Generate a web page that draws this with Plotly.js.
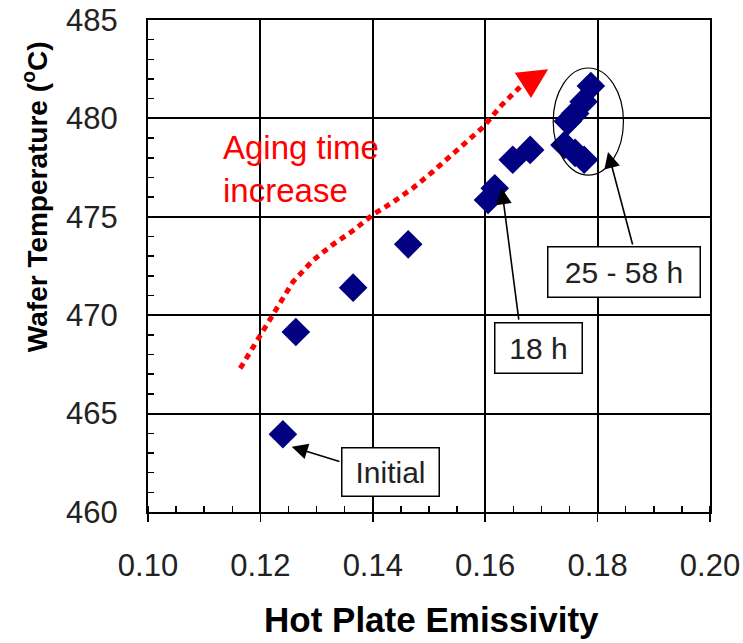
<!DOCTYPE html>
<html>
<head>
<meta charset="utf-8">
<script src="https://cdn.plot.ly/plotly-3.0.1.min.js"></script>
<style>html,body{margin:0;padding:0;background:#fff;}#chart{width:743px;height:643px;}</style>
</head>
<body>
<div id="chart"></div>
<script>
// Measured points: hot plate emissivity vs wafer temperature
const emissivity = [0.1240, 0.1263, 0.1365, 0.1463, 0.1605, 0.1617, 0.1649, 0.1680,
                    0.1741, 0.1760, 0.1776, 0.1747, 0.1760, 0.1775, 0.1788];
const waferTemp  = [463.95, 469.15, 471.40, 473.60, 475.85, 476.45, 477.90, 478.40,
                    478.65, 478.25, 477.90, 479.85, 480.25, 480.85, 481.65];

// Hand-drawn "aging time increase" trend curve
const trendX = [0.1164, 0.1205, 0.1230, 0.1258, 0.1294, 0.1327, 0.1365, 0.1400,
                0.1436, 0.1471, 0.1507, 0.1560, 0.1596, 0.1630, 0.1662];
const trendY = [467.3, 469.25, 470.4, 471.7, 472.8, 473.55, 474.3, 475.1,
                475.75, 476.45, 477.3, 478.65, 479.55, 480.7, 481.6];

const xTicks = [0.10, 0.12, 0.14, 0.16, 0.18, 0.20];
const yTicks = [460, 465, 470, 475, 480, 485];

const xTitle = 'Hot Plate Emissivity';
const yTitle = 'Wafer Temperature (<sup>o</sup>C)';

const FONT = 'Liberation Sans, Arial, sans-serif';

const traces = [
  {
    x: trendX, y: trendY, mode: 'lines', type: 'scatter',
    line: {color: '#ff0000', width: 5, dash: '6px,5px'},
    hoverinfo: 'skip', showlegend: false
  },
  {
    x: emissivity, y: waferTemp, mode: 'markers', type: 'scatter',
    marker: {symbol: 'diamond', size: 22, color: '#000080'},
    showlegend: false
  }
];

const boxStyle = {
  xref: 'x', yref: 'y', showarrow: false,
  font: {family: FONT, size: 30, color: '#222'},
  bgcolor: '#fff', bordercolor: '#000', borderwidth: 1.5, borderpad: 0
};
const arrowStyle = {
  xref: 'x', yref: 'y', axref: 'x', ayref: 'y', text: '', showarrow: true,
  arrowhead: 2, arrowsize: 2, arrowwidth: 1.6, arrowcolor: '#000'
};

const layout = {
  width: 743, height: 643,
  margin: {l: 148, r: 33, t: 20, b: 131},
  paper_bgcolor: '#fff', plot_bgcolor: '#fff',
  font: {family: FONT, color: '#222'},
  xaxis: {
    range: [0.10, 0.20], tickvals: xTicks, tickformat: '.2f',
    showgrid: true, gridcolor: '#000', gridwidth: 2,
    showline: true, linecolor: '#000', linewidth: 2, mirror: true,
    ticks: 'outside', ticklen: 8, tickcolor: '#000', tickwidth: 1.5,
    minor: {dtick: 0.005, ticks: 'inside', ticklen: 6, tickcolor: '#000', showgrid: false},
    tickfont: {family: FONT, size: 31, color: '#222'},
    ticklabelstandoff: 17,
    zeroline: false
  },
  yaxis: {
    range: [460, 485], tickvals: yTicks,
    showgrid: true, gridcolor: '#000', gridwidth: 2,
    showline: true, linecolor: '#000', linewidth: 2, mirror: true,
    ticks: 'inside', ticklen: 8, tickcolor: '#000', tickwidth: 1.5,
    minor: {dtick: 1, ticks: 'inside', ticklen: 6, tickcolor: '#000', showgrid: false},
    tickfont: {family: FONT, size: 31, color: '#222'},
    ticklabelstandoff: 22,
    zeroline: false
  },
  shapes: [
    {type: 'circle', xref: 'x', yref: 'y', x0: 0.1721, x1: 0.1846, y0: 477.12, y1: 482.56,
     line: {color: '#000', width: 1.2}}
  ],
  annotations: [
    {xref: 'paper', yref: 'paper', x: 0.505, y: -0.219, xanchor: 'center', yanchor: 'middle',
     showarrow: false, text: xTitle, font: {family: FONT, size: 35, color: '#000', weight: 'bold'}},
    {xref: 'paper', yref: 'paper', x: -0.201, y: 0.640, xanchor: 'center', yanchor: 'middle',
     textangle: -90, showarrow: false, text: yTitle, font: {family: FONT, size: 28, color: '#000', weight: 'bold'}},
    {xref: 'x', yref: 'y', x: 0.1130, y: 477.43, xanchor: 'left', yanchor: 'middle', align: 'left',
     showarrow: false, text: 'Aging time<br>increase', font: {family: FONT, size: 33, color: '#ff0000'}},
    Object.assign({}, arrowStyle, {x: 0.1712, y: 482.5, ax: 0.16655, ay: 481.65,
     arrowcolor: '#ff0000', arrowsize: 1.5, arrowwidth: 4, arrowhead: 2}),
    Object.assign({}, arrowStyle, {x: 0.12557, y: 463.32, ax: 0.13434, ay: 462.54}),
    Object.assign({}, arrowStyle, {x: 0.16294, y: 476.45, ax: 0.16601, ay: 469.70}),
    Object.assign({}, arrowStyle, {x: 0.18185, y: 478.29, ax: 0.18630, ay: 473.52}),
    Object.assign({}, boxStyle, {x: 0.14315, y: 462.03, text: 'Initial', width: 96, height: 47}),
    Object.assign({}, boxStyle, {x: 0.16948, y: 468.33, text: '18 h', width: 86, height: 49}),
    Object.assign({}, boxStyle, {x: 0.18470, y: 472.20, text: '25 - 58 h', width: 151, height: 49})
  ]
};

Plotly.newPlot('chart', traces, layout, {displayModeBar: false, staticPlot: true});
</script>
</body>
</html>
